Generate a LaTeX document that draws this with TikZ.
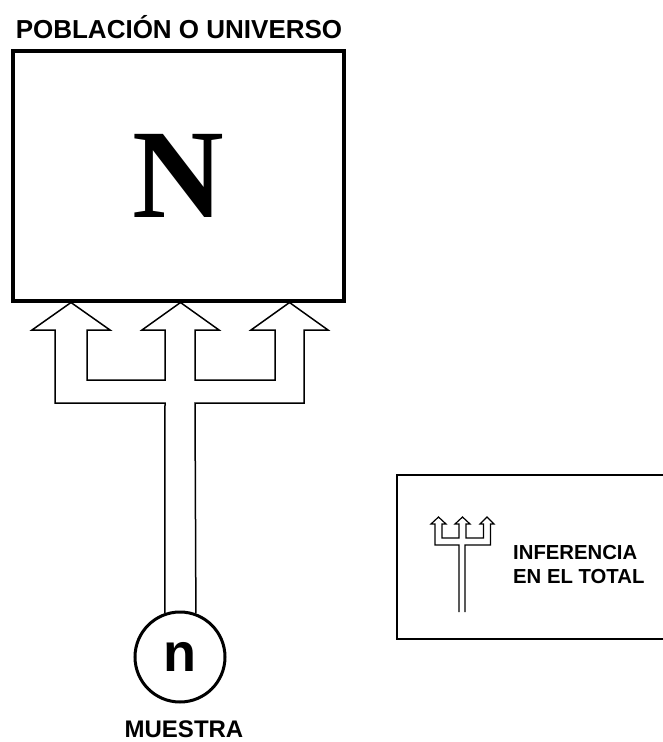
\documentclass[tikz,border=0pt]{standalone}
\usepackage{fontspec}
\setmainfont{Liberation Sans}
\newfontfamily\serifN{Liberation Serif}
\begin{document}
\begin{tikzpicture}[x=1pt,y=-1pt,
  thinline/.style={line width=1.5pt, line join=miter},
  minithin/.style={line width=1.2pt, line join=miter},
  lbl/.style={font=\bfseries, inner sep=0pt}]
\useasboundingbox (0,0) rectangle (662,742);
% title
\node[lbl, font=\bfseries\fontsize{26}{31}\selectfont] (title) at (179,27) {POBLACIÓN O UNIVERSO};
% population box
\node[draw, line width=4pt, minimum width=331pt, minimum height=250pt, inner sep=0pt]
  (pop) at (178.5,176) {\serifN\bfseries\fontsize{127}{130}\selectfont N};
% sample circle
\node[circle, draw, line width=3pt, minimum size=90pt, inner sep=0pt,
  font=\bfseries\fontsize{54}{60}\selectfont] (n) at (180,657) {n};
\node[lbl, font=\bfseries\fontsize{24}{29}\selectfont] (muestra) at (184,729) {MUESTRA};
% trident connector
\draw[thinline] (n.109.5) -- (165,403) -- (55,403) -- (55,330) -- (32,330) -- (71,302.5)
  -- (110,330) -- (87,330) -- (87,380) -- (165,380) -- (165,330) -- (142,330)
  -- (180.5,302.5) -- (219,330) -- (195,330) -- (195,380) -- (275,380) -- (275,330)
  -- (251,330) -- (289.5,302.5) -- (328,330) -- (304,330) -- (304,403) -- (195,403)
  -- (n.70.5);
% legend box
\draw[line width=1.5pt] (665,475) -- (397,475) -- (397,639) -- (665,639);
\coordinate (lstart) at (459,612);
\coordinate (lend) at (465,612);
\draw[minithin] (lstart) -- (459,545) -- (435,545) -- (435,524) -- (431,524) -- (438.5,517)
  -- (446,524) -- (442,524) -- (442,538) -- (459,538) -- (459,524) -- (455,524)
  -- (462.5,517) -- (470,524) -- (466,524) -- (466,538) -- (483.5,538) -- (483.5,524)
  -- (480,524) -- (487,517) -- (494,524) -- (490.5,524) -- (490.5,545) -- (465,545)
  -- (lend);
\node[lbl, anchor=west, align=left, font=\bfseries\fontsize{20.3}{24}\selectfont]
  (leg) at (513,565) {INFERENCIA\\EN EL TOTAL};
\end{tikzpicture}
\end{document}
